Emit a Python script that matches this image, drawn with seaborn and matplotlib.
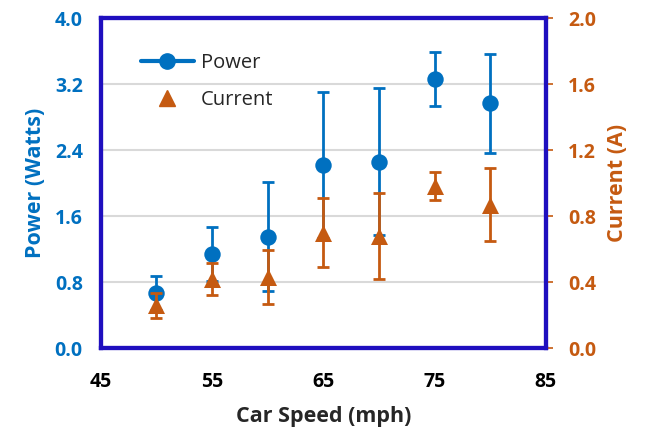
import matplotlib
matplotlib.use('Agg')
import matplotlib.pyplot as plt
import seaborn as sns
import pandas as pd
from matplotlib.lines import Line2D

speed = [50, 55, 60, 65, 70, 75, 80]
power = [0.67, 1.14, 1.35, 2.22, 2.26, 3.26, 2.97]
power_err = [0.21, 0.33, 0.66, 0.88, 0.89, 0.33, 0.60]
current = [0.26, 0.42, 0.43, 0.70, 0.68, 0.98, 0.87]
current_err = [0.077, 0.095, 0.165, 0.21, 0.26, 0.085, 0.22]

blue = '#0070C0'
orange = '#C55A11'
frame = '#1F0FBF'

df = pd.DataFrame({'speed': speed, 'power': power, 'current': current})

sns.set_style('white')
plt.rcParams['font.family'] = ['Open Sans', 'DejaVu Sans']

fig = plt.figure(figsize=(6.46, 4.32), dpi=100)
ax = fig.add_axes([0.156, 0.194, 0.689, 0.764])

ax.errorbar(speed, power, yerr=power_err, fmt='none', ecolor=blue, elinewidth=2,
            capsize=4, capthick=2, zorder=2)
sns.scatterplot(data=df, x='speed', y='power', ax=ax, color=blue, marker='o',
                s=140, edgecolor=blue, linewidth=0, zorder=3)
ax.set_xlim(45, 85)
ax.set_ylim(0, 4.0)
ax.set_xticks([45, 55, 65, 75, 85])
ax.set_yticks([0, 0.8, 1.6, 2.4, 3.2, 4.0])
ax.set_yticklabels(['0.0', '0.8', '1.6', '2.4', '3.2', '4.0'])
ax.yaxis.grid(True, color='#D9D9D9', linewidth=1.5)
ax.set_axisbelow(True)
ax.tick_params(axis='y', colors=blue, labelsize=14, length=0, pad=13)
ax.tick_params(axis='x', colors='black', labelsize=14, length=0, pad=17)
for lab in ax.get_xticklabels() + ax.get_yticklabels():
    lab.set_fontweight('bold')
ax.set_xlabel('Car Speed (mph)', fontsize=15.5, fontweight='bold', labelpad=10)
ax.set_ylabel('Power (Watts)', fontsize=15.5, fontweight='bold', color=blue, labelpad=6)

ax2 = ax.twinx()
ax2.errorbar(speed, current, yerr=current_err, fmt='none', ecolor=orange, elinewidth=2,
             capsize=4, capthick=2, zorder=2)
sns.scatterplot(data=df, x='speed', y='current', ax=ax2, color=orange, marker='^',
                s=150, linewidth=0, zorder=3)
ax2.set_ylim(0, 2.0)
ax2.set_yticks([0, 0.4, 0.8, 1.2, 1.6, 2.0])
ax2.set_yticklabels(['0.0', '0.4', '0.8', '1.2', '1.6', '2.0'])
ax2.tick_params(axis='y', colors=orange, labelsize=14, length=5, width=1.2, pad=11)
for t in ax2.yaxis.get_ticklines():
    t.set_color('#BFBFBF')
for lab in ax2.get_yticklabels():
    lab.set_fontweight('bold')
ax2.set_ylabel('Current (A)', fontsize=15.5, fontweight='bold', color=orange, labelpad=8)

for a in (ax, ax2):
    for sp in a.spines.values():
        sp.set_color(frame)
        sp.set_linewidth(3)

handles = [
    Line2D([], [], color=blue, marker='o', markersize=11, linewidth=3),
    Line2D([], [], color=orange, marker='^', markersize=11, linewidth=0),
]
ax2.legend(handles, ['Power', 'Current'], loc='upper left', bbox_to_anchor=(0.05, 0.95),
           frameon=False, fontsize=14.5, handlelength=2.6, handletextpad=0.35,
           labelspacing=0.85)

fig.savefig('out.png', dpi=100)
